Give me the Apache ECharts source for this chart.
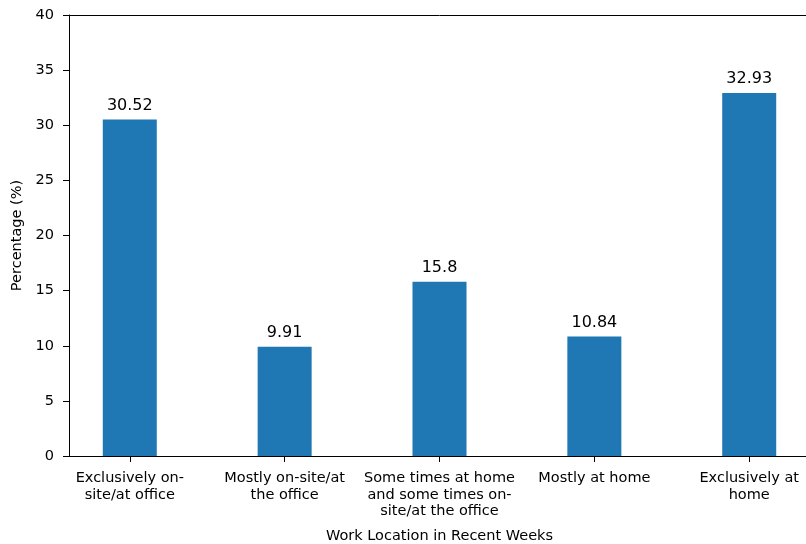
<!DOCTYPE html>
<html>
<head>
<meta charset="utf-8">
<script src="https://cdn.jsdelivr.net/npm/echarts@6/dist/echarts.min.js"></script>
<style>
  html, body { margin: 0; padding: 0; background: #fff; overflow: hidden; }
  #chart { width: 816px; height: 544px; }
</style>
</head>
<body>
<div id="chart"></div>
<script>
// work location survey, percentages per category
const categories = [
    'Exclusively on-\nsite/at office',
    'Mostly on-site/at\nthe office',
    'Some times at home\nand some times on-\nsite/at the office',
    'Mostly at home',
    'Exclusively at\nhome'
];
const values = [30.52, 9.91, 15.8, 10.84, 32.93];
const yTicks = [0, 5, 10, 15, 20, 25, 30, 35, 40];
const positions = categories.map((c, i) => i);

const chart = echarts.init(document.getElementById('chart'));
const font = 'DejaVu Sans';

const option = {
    animation: false,
    textStyle: { fontFamily: font },
    grid: { left: 69, top: 15, width: 741, height: 441, outerBoundsMode: 'none', containLabel: false },
    xAxis: [{
        type: 'value',
        min: -0.3925,
        max: 4.3925,
        name: 'Work Location in Recent Weeks',
        nameLocation: 'middle',
        nameGap: 73,
        nameTextStyle: { color: '#000', fontSize: 14.5, fontFamily: font },
        axisLine: { show: true, onZero: false, lineStyle: { color: '#000', width: 1 } },
        axisTick: { show: true, customValues: positions, length: 6, lineStyle: { color: '#000' } },
        axisLabel: {
            customValues: positions,
            formatter: v => categories[Math.round(v)],
            color: '#000', fontSize: 14.5, fontFamily: font,
            lineHeight: 16.5, margin: 14
        },
        splitLine: { show: false }
    }, {
        type: 'value',
        position: 'top',
        min: -0.3925,
        max: 4.3925,
        axisLine: { show: true, onZero: false, lineStyle: { color: '#000', width: 1 } },
        axisTick: { show: false },
        axisLabel: { show: false },
        splitLine: { show: false }
    }],
    yAxis: [{
        type: 'value',
        min: yTicks[0],
        max: yTicks[yTicks.length - 1],
        interval: 5,
        name: 'Percentage (%)',
        nameLocation: 'middle',
        nameGap: 44,
        nameTextStyle: { color: '#000', fontSize: 14.5, fontFamily: font },
        axisLine: { show: true, onZero: false, lineStyle: { color: '#000', width: 1 } },
        axisTick: { show: true, length: 6, lineStyle: { color: '#000' } },
        axisLabel: { color: '#000', fontSize: 14.5, fontFamily: font, margin: 15 },
        splitLine: { show: false }
    }, {
        type: 'value',
        position: 'right',
        min: 0,
        max: 40,
        axisLine: { show: true, onZero: false, lineStyle: { color: '#000', width: 1 } },
        axisTick: { show: false },
        axisLabel: { show: false },
        splitLine: { show: false }
    }],
    series: [{
        type: 'bar',
        xAxisIndex: 0,
        yAxisIndex: 0,
        data: values.map((v, i) => [positions[i], v]),
        barWidth: 54,
        itemStyle: { color: '#1f77b4' },
        label: {
            show: true,
            position: 'top',
            distance: 6,
            formatter: p => String(p.value[1]),
            color: '#000',
            fontSize: 16,
            fontFamily: font
        }
    }]
};

chart.setOption(option);
window.addEventListener('resize', () => chart.resize());
</script>
</body>
</html>
